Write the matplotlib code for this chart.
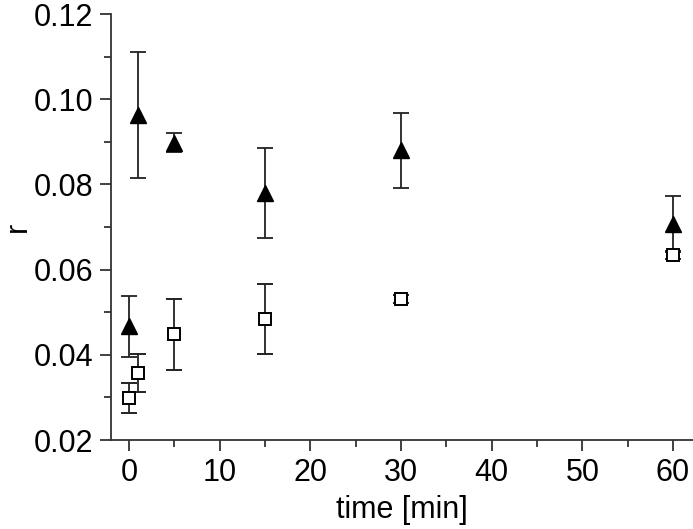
import numpy as np
import matplotlib.pyplot as plt

plt.rcParams['font.family'] = ['Liberation Sans', 'DejaVu Sans']

# filled triangles
tri_t = [0, 1, 5, 15, 30, 60]
tri_r = [0.0467, 0.0963, 0.0898, 0.0780, 0.0880, 0.0707]
tri_err = [0.0072, 0.0148, 0.0022, 0.0105, 0.0088, 0.0066]

# open squares
sq_t = [0, 1, 5, 15, 30, 60]
sq_r = [0.0298, 0.0357, 0.0448, 0.0485, 0.0531, 0.0634]
sq_err = [0.0035, 0.0044, 0.0084, 0.0082, 0.0010, 0.0010]

fig = plt.figure(figsize=(6.93, 5.29), dpi=100)
ax = fig.add_axes([111/693, 89/529, 582/693, 426/529])

lc = '#222222'
ax.errorbar(tri_t, tri_r, yerr=tri_err, fmt='^', color='k', ms=11,
            ecolor=lc, elinewidth=1.3, capsize=6, capthick=1.3, zorder=3)
ax.errorbar(sq_t, sq_r, yerr=sq_err, fmt='s', mfc='white', mec='k', mew=1.4,
            ms=8, ecolor=lc, elinewidth=1.3, capsize=6, capthick=1.3, zorder=3)

ax.set_xlim(-2.0, 62.2)
ax.set_ylim(0.02, 0.12)
ax.set_xticks(np.arange(0, 61, 10))
ax.set_xticks(np.arange(5, 61, 10), minor=True)
ax.set_yticks([0.02, 0.04, 0.06, 0.08, 0.10, 0.12])
ax.set_yticklabels(['0.02', '0.04', '0.06', '0.08', '0.10', '0.12'])
ax.set_yticks([0.03, 0.05, 0.07, 0.09, 0.11], minor=True)

for s in ['top', 'right']:
    ax.spines[s].set_visible(False)
for s in ['left', 'bottom']:
    ax.spines[s].set_linewidth(1.3)
    ax.spines[s].set_color('#333333')

ax.tick_params(which='major', length=8, width=1.3, labelsize=22, pad=5, color='#333333')
ax.tick_params(which='minor', length=5, width=1.3, color='#333333')

ax.set_xlabel('time [min]', fontsize=22, labelpad=5)
ax.set_ylabel('r', fontsize=22)
ax.yaxis.set_label_coords(-0.135, 0.5)

fig.savefig('out.png', dpi=100)
